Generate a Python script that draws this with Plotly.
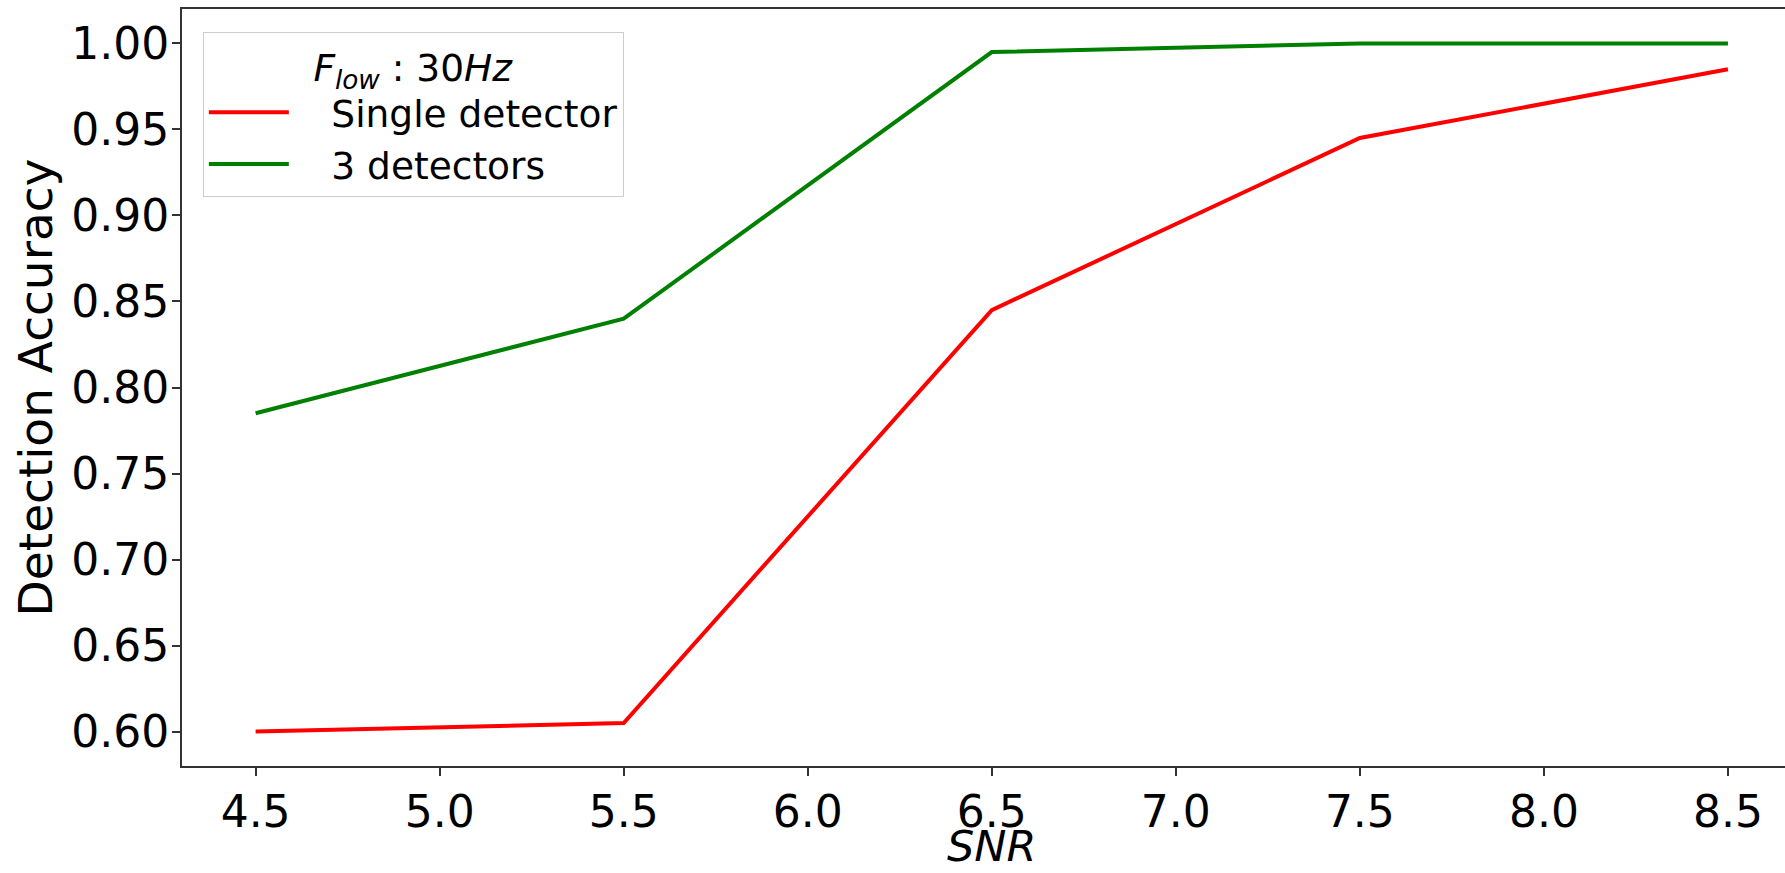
import plotly.graph_objects as go

snr = [4.5, 5.5, 6.5, 7.5, 8.5]
single_detector = [0.600, 0.605, 0.845, 0.945, 0.985]
three_detectors = [0.785, 0.840, 0.995, 1.000, 1.000]
series_names = ["Single detector", "3 detectors"]
x_ticks = [4.5, 5.0, 5.5, 6.0, 6.5, 7.0, 7.5, 8.0, 8.5]
y_ticks = [0.60, 0.65, 0.70, 0.75, 0.80, 0.85, 0.90, 0.95, 1.00]

gap = "\u2002\u2002"
fig = go.Figure()
fig.add_trace(go.Scatter(x=snr, y=single_detector, mode="lines", name=gap + series_names[0],
                         line=dict(color="#ff0000", width=4)))
fig.add_trace(go.Scatter(x=snr, y=three_detectors, mode="lines", name=gap + series_names[1],
                         line=dict(color="#008000", width=4)))

font_family = "DejaVu Sans"
fig.update_layout(
    width=1785, height=873,
    margin=dict(l=182, r=0, t=9, b=107),
    paper_bgcolor="white", plot_bgcolor="white",
    font=dict(family=font_family, color="black"),
    showlegend=True,
    legend=dict(
        x=0.013, y=0.97, xanchor="left", yanchor="top",
        bgcolor="rgba(255,255,255,0.8)", bordercolor="#cccccc", borderwidth=1,
        font=dict(size=37.5, family=font_family),
        itemwidth=80,
        title=dict(text="<i>F</i><sub><i>low</i></sub> : 30<i>Hz</i>",
                   side="top center", font=dict(size=37.5, family=font_family)),
        tracegroupgap=0,
    ),
    xaxis=dict(
        range=[4.3, 8.655], tickvals=x_ticks, tickformat=".1f", automargin=False,
        showline=True, linecolor="#333333", linewidth=2, mirror=True,
        ticks="outside", ticklen=8, tickcolor="#333333", tickwidth=1.5,
        showgrid=False, zeroline=False, ticklabelstandoff=-2,
        tickfont=dict(size=44, family=font_family),
    ),
    yaxis=dict(
        range=[0.58, 1.02], tickvals=y_ticks, tickformat=".2f", automargin=False,
        showline=True, linecolor="#333333", linewidth=2, mirror=False,
        ticks="outside", ticklen=8, tickcolor="#333333", tickwidth=1.5,
        showgrid=False, zeroline=False, ticklabelstandoff=-6,
        tickfont=dict(size=44, family=font_family),
        title=dict(text="Detection Accuracy", font=dict(size=47, family=font_family), standoff=4),
    ),
    annotations=[dict(
        text="<i>SNR</i>", xref="paper", yref="paper", x=0.505, y=0,
        xanchor="center", yanchor="middle", yshift=-80, showarrow=False,
        font=dict(size=43, family=font_family, color="black"),
    )],
)

fig.write_html("out.html")
